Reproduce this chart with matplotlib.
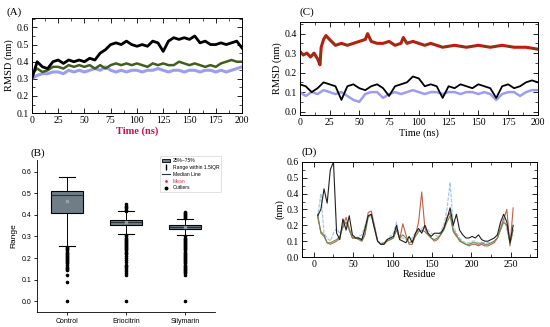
import matplotlib
matplotlib.use('Agg')
import matplotlib.pyplot as plt
from matplotlib.lines import Line2D
from matplotlib.patches import Patch
from matplotlib.ticker import MultipleLocator

# ---- data ----
# (A) RMSD, 0-200 ns every 5 ns
time_a = list(range(0, 201, 5))
rmsd_a_black = [0.30, 0.40, 0.37, 0.36, 0.40, 0.41, 0.39, 0.41, 0.40, 0.41, 0.40, 0.42, 0.41, 0.45,
                0.47, 0.50, 0.51, 0.50, 0.52, 0.50, 0.49, 0.50, 0.49, 0.52, 0.51, 0.46, 0.52, 0.54,
                0.53, 0.54, 0.53, 0.55, 0.51, 0.52, 0.50, 0.50, 0.51, 0.50, 0.51, 0.52, 0.48]
rmsd_a_green = [0.33, 0.36, 0.34, 0.35, 0.37, 0.37, 0.36, 0.38, 0.37, 0.38, 0.37, 0.38, 0.36, 0.38,
                0.36, 0.38, 0.39, 0.38, 0.39, 0.38, 0.39, 0.38, 0.37, 0.39, 0.38, 0.39, 0.38, 0.38,
                0.40, 0.39, 0.38, 0.39, 0.38, 0.37, 0.38, 0.37, 0.39, 0.40, 0.41, 0.40, 0.40]
rmsd_a_blue = [0.30, 0.32, 0.33, 0.33, 0.34, 0.34, 0.33, 0.35, 0.34, 0.35, 0.34, 0.35, 0.36, 0.35,
               0.37, 0.35, 0.34, 0.35, 0.34, 0.35, 0.35, 0.34, 0.35, 0.35, 0.36, 0.35, 0.34, 0.35,
               0.35, 0.34, 0.35, 0.35, 0.34, 0.35, 0.35, 0.34, 0.35, 0.34, 0.35, 0.36, 0.37]

# (C) RMSD
time_c_red = [0, 3, 6, 9, 12, 15, 17, 18, 20, 22, 25, 30, 35, 40, 45, 50, 55, 57, 60, 65, 70, 75,
              80, 85, 87, 90, 95, 100, 105, 110, 115, 120, 130, 140, 150, 160, 170, 180, 190, 200]
rmsd_c_red = [0.31, 0.29, 0.30, 0.28, 0.30, 0.27, 0.24, 0.33, 0.37, 0.39, 0.37, 0.34, 0.35, 0.34,
              0.35, 0.36, 0.37, 0.40, 0.36, 0.35, 0.35, 0.36, 0.34, 0.35, 0.38, 0.35, 0.36, 0.35,
              0.34, 0.35, 0.34, 0.33, 0.34, 0.33, 0.34, 0.33, 0.34, 0.33, 0.33, 0.32]
time_c = list(range(0, 201, 5))
rmsd_c_black = [0.14, 0.13, 0.10, 0.12, 0.15, 0.14, 0.13, 0.06, 0.13, 0.14, 0.12, 0.11, 0.13, 0.14,
                0.12, 0.08, 0.13, 0.14, 0.15, 0.18, 0.17, 0.13, 0.14, 0.13, 0.07, 0.13, 0.12, 0.14,
                0.13, 0.12, 0.14, 0.13, 0.12, 0.07, 0.13, 0.14, 0.12, 0.13, 0.15, 0.16, 0.15]
rmsd_c_blue = [0.10, 0.08, 0.10, 0.09, 0.11, 0.10, 0.09, 0.10, 0.08, 0.06, 0.05, 0.09, 0.10, 0.10,
               0.07, 0.09, 0.10, 0.09, 0.10, 0.11, 0.10, 0.09, 0.10, 0.10, 0.09, 0.10, 0.10, 0.09,
               0.10, 0.10, 0.09, 0.10, 0.09, 0.06, 0.09, 0.10, 0.10, 0.08, 0.10, 0.11, 0.11]

# (B) box statistics
box_labels = ['Control', 'Eriocitrin', 'Silymarin']
box_q1 = [0.41, 0.355, 0.335]
box_med = [0.49, 0.365, 0.345]
box_q3 = [0.51, 0.375, 0.352]
box_lo = [0.255, 0.31, 0.305]
box_hi = [0.578, 0.418, 0.382]
box_mean = [0.465, 0.365, 0.342]
fliers_control = [0.25, 0.245, 0.24, 0.235, 0.23, 0.225, 0.22, 0.215, 0.21, 0.205, 0.20, 0.195,
                  0.19, 0.185, 0.18, 0.175, 0.17, 0.16, 0.155, 0.15, 0.145, 0.12, 0.09, 0.0]
fliers_erio = [0.42, 0.425, 0.43, 0.435, 0.44, 0.45, 0.305, 0.30, 0.295, 0.29, 0.285, 0.28, 0.275,
               0.27, 0.265, 0.26, 0.255, 0.25, 0.245, 0.24, 0.235, 0.23, 0.225, 0.22, 0.21, 0.2,
               0.19, 0.18, 0.17, 0.165, 0.16, 0.15, 0.14, 0.13, 0.12, 0.0]
fliers_sily = [0.385, 0.39, 0.395, 0.40, 0.405, 0.41, 0.415, 0.30, 0.295, 0.29, 0.285, 0.28, 0.275,
               0.27, 0.265, 0.26, 0.255, 0.25, 0.245, 0.24, 0.235, 0.23, 0.225, 0.22, 0.215, 0.21,
               0.205, 0.2, 0.195, 0.19, 0.185, 0.18, 0.175, 0.17, 0.165, 0.16, 0.155, 0.15, 0.145,
               0.14, 0.135, 0.13, 0.12, 0.0]

# (D) RMSF per residue
residue = list(range(5, 254, 4))
rmsf_black = [0.26, 0.30, 0.43, 0.34, 0.55, 0.60, 0.15, 0.11, 0.24, 0.17, 0.26, 0.14, 0.12, 0.12,
              0.11, 0.18, 0.26, 0.27, 0.18, 0.10, 0.08, 0.08, 0.11, 0.12, 0.13, 0.20, 0.11, 0.10,
              0.09, 0.13, 0.09, 0.15, 0.18, 0.15, 0.20, 0.15, 0.13, 0.15, 0.15, 0.15, 0.18, 0.24,
              0.31, 0.20, 0.27, 0.17, 0.14, 0.12, 0.12, 0.13, 0.12, 0.14, 0.11, 0.10, 0.10, 0.11,
              0.12, 0.14, 0.22, 0.27, 0.22, 0.09, 0.20]
rmsf_red = [0.25, 0.16, 0.14, 0.09, 0.08, 0.09, 0.10, 0.12, 0.20, 0.25, 0.18, 0.12, 0.12, 0.11,
            0.10, 0.15, 0.28, 0.29, 0.20, 0.10, 0.08, 0.08, 0.10, 0.11, 0.12, 0.18, 0.11, 0.21,
            0.14, 0.08, 0.08, 0.14, 0.22, 0.41, 0.18, 0.14, 0.12, 0.10, 0.11, 0.14, 0.18, 0.25,
            0.28, 0.17, 0.14, 0.10, 0.09, 0.08, 0.07, 0.08, 0.08, 0.07, 0.08, 0.07, 0.07, 0.08,
            0.09, 0.12, 0.18, 0.24, 0.30, 0.07, 0.31]
rmsf_green = [0.27, 0.15, 0.13, 0.09, 0.09, 0.10, 0.11, 0.13, 0.19, 0.22, 0.17, 0.12, 0.12, 0.12,
              0.10, 0.14, 0.25, 0.27, 0.19, 0.10, 0.08, 0.09, 0.10, 0.11, 0.12, 0.17, 0.12, 0.14,
              0.12, 0.09, 0.10, 0.13, 0.16, 0.17, 0.16, 0.14, 0.12, 0.11, 0.12, 0.14, 0.17, 0.22,
              0.26, 0.16, 0.13, 0.11, 0.09, 0.08, 0.08, 0.09, 0.09, 0.08, 0.09, 0.08, 0.08, 0.09,
              0.10, 0.12, 0.17, 0.22, 0.20, 0.08, 0.17]
rmsf_blue = [0.25, 0.40, 0.15, 0.12, 0.10, 0.15, 0.18, 0.15, 0.18, 0.22, 0.17, 0.13, 0.12, 0.13,
             0.14, 0.20, 0.26, 0.25, 0.18, 0.10, 0.09, 0.09, 0.11, 0.13, 0.15, 0.22, 0.12, 0.12,
             0.11, 0.11, 0.12, 0.15, 0.17, 0.18, 0.20, 0.17, 0.15, 0.14, 0.13, 0.16, 0.20, 0.30,
             0.47, 0.20, 0.15, 0.12, 0.10, 0.09, 0.09, 0.10, 0.10, 0.09, 0.09, 0.09, 0.09, 0.09,
             0.10, 0.12, 0.20, 0.25, 0.17, 0.10, 0.14]

SERIF = ['Liberation Serif', 'DejaVu Serif']
SANS = ['Liberation Sans', 'DejaVu Sans']
plt.rcParams['font.family'] = SERIF

fig = plt.figure(figsize=(5.5, 3.27), dpi=100)


def grace_axes(ax, xmaj, xmin, ymaj, ymin):
    ax.xaxis.set_major_locator(MultipleLocator(xmaj))
    ax.xaxis.set_minor_locator(MultipleLocator(xmin))
    ax.yaxis.set_major_locator(MultipleLocator(ymaj))
    ax.yaxis.set_minor_locator(MultipleLocator(ymin))
    ax.tick_params(which='both', direction='in', top=True, right=True, labelsize=7, pad=2)
    ax.tick_params(which='major', length=3.5, width=0.6)
    ax.tick_params(which='minor', length=2, width=0.5)
    for s in ax.spines.values():
        s.set_linewidth(0.7)


# (A)
axA = fig.add_axes([0.058, 0.654, 0.382, 0.291])
axA.plot(time_a, rmsd_a_blue, color='#9d9df0', lw=2.2)
axA.plot(time_a, rmsd_a_green, color='#3f5f1a', lw=1.8)
axA.plot(time_a, rmsd_a_black, color='black', lw=2.0)
axA.set_xlim(0, 200)
axA.set_ylim(0.1, 0.655)
grace_axes(axA, 25, 12.5, 0.1, 0.05)
axA.set_ylabel('RMSD (nm)', fontsize=7.5, labelpad=2)
axA.set_xlabel('Time (ns)', fontsize=7.5, labelpad=1, color='#c8104a', fontweight='bold')
fig.text(0.012, 0.955, '(A)', fontsize=8)

# (C)
axC = fig.add_axes([0.545, 0.648, 0.433, 0.285])
axC.plot(time_c_red, rmsd_c_red, color='#d01010', lw=2.2)
axC.plot(time_c_red, rmsd_c_red, color='#6b4a10', lw=0.7)
axC.plot(time_c, rmsd_c_blue, color='#9d9df0', lw=1.8)
axC.plot(time_c, rmsd_c_black, color='black', lw=1.3)
axC.set_xlim(0, 200)
axC.set_ylim(-0.018, 0.46)
grace_axes(axC, 25, 12.5, 0.1, 0.05)
axC.set_ylabel('RMSD (nm)', fontsize=7.5, labelpad=2)
axC.set_xlabel('Time (ns)', fontsize=7.5, labelpad=1)
fig.text(0.545, 0.955, '(C)', fontsize=8)

# (B)
axB = fig.add_axes([0.067, 0.046, 0.324, 0.465])
stats = []
fliers = [fliers_control, fliers_erio, fliers_sily]
for i in range(3):
    stats.append(dict(label=box_labels[i], q1=box_q1[i], med=box_med[i], q3=box_q3[i],
                      whislo=box_lo[i], whishi=box_hi[i], mean=box_mean[i], fliers=fliers[i]))
axB.bxp(stats, positions=[1, 2, 3], widths=0.55, patch_artist=True, showmeans=True,
        boxprops=dict(facecolor='#6f7d87', edgecolor='black', linewidth=0.8),
        medianprops=dict(color='#2b3338', linewidth=0.8),
        whiskerprops=dict(color='black', linewidth=0.7),
        capprops=dict(color='black', linewidth=0.8),
        meanprops=dict(marker='s', markersize=1.5, markerfacecolor='#9aa0a4', markeredgecolor='#9aa0a4'),
        flierprops=dict(marker='o', markersize=1.6, markerfacecolor='black', markeredgecolor='black'))
axB.set_xlim(0.49, 3.51)
axB.set_ylim(-0.05, 0.655)
axB.set_yticks([0.0, 0.1, 0.2, 0.3, 0.4, 0.5, 0.6])
axB.set_yticklabels(['0.0', '0.1', '0.2', '0.3', '0.4', '0.5', '0.6'], family=SANS, fontsize=5)
axB.set_xticklabels(box_labels, family=SANS, fontsize=5)
axB.tick_params(direction='out', length=2, width=0.6, pad=2)
axB.spines['top'].set_visible(False)
axB.spines['right'].set_visible(False)
axB.spines['left'].set_linewidth(0.6)
axB.spines['bottom'].set_linewidth(0.6)
axB.set_ylabel('Range', family=SANS, fontsize=6, labelpad=3)
handles = [Patch(facecolor='#6f7d87', edgecolor='black', linewidth=0.6),
           Line2D([], [], color='black', marker='$\\mathrm{I}$', linestyle='none', markersize=4),
           Line2D([], [], color='#2b3338', lw=0.8),
           Line2D([], [], color='#e0304a', marker='.', linestyle='none', markersize=2),
           Line2D([], [], color='black', marker='o', linestyle='none', markersize=1.8)]
leg = axB.legend(handles, ['25%~75%', 'Range within 1.5IQR', 'Median Line', 'Mean', 'Outliers'],
                 loc='upper right', bbox_to_anchor=(1.05, 1.04), prop={'family': SANS, 'size': 3.6},
                 frameon=True, fancybox=False, edgecolor='#cccccc', handlelength=1.6,
                 handletextpad=0.5, labelspacing=0.35, borderpad=0.4)
leg.get_frame().set_linewidth(0.5)
leg.get_texts()[3].set_color('#e0304a')
fig.text(0.055, 0.525, '(B)', fontsize=8)

# (D)
axD = fig.add_axes([0.549, 0.214, 0.427, 0.291])
axD.plot(residue, rmsf_blue, color='#a8c8e8', lw=0.9, linestyle=(0, (3, 1)))
axD.plot(residue, rmsf_red, color='#c0604a', lw=0.8)
axD.plot(residue, rmsf_green, color='#6f8a4a', lw=0.8)
axD.plot(residue, rmsf_black, color='#202020', lw=0.8)
axD.set_xlim(-15, 283)
axD.set_ylim(0, 0.6)
grace_axes(axD, 50, 25, 0.1, 0.05)
axD.set_ylabel('(nm)', fontsize=7.5, labelpad=2)
axD.set_xlabel('Residue', fontsize=7.5, labelpad=1)
fig.text(0.549, 0.528, '(D)', fontsize=8)

fig.savefig('out.png', dpi=100)
